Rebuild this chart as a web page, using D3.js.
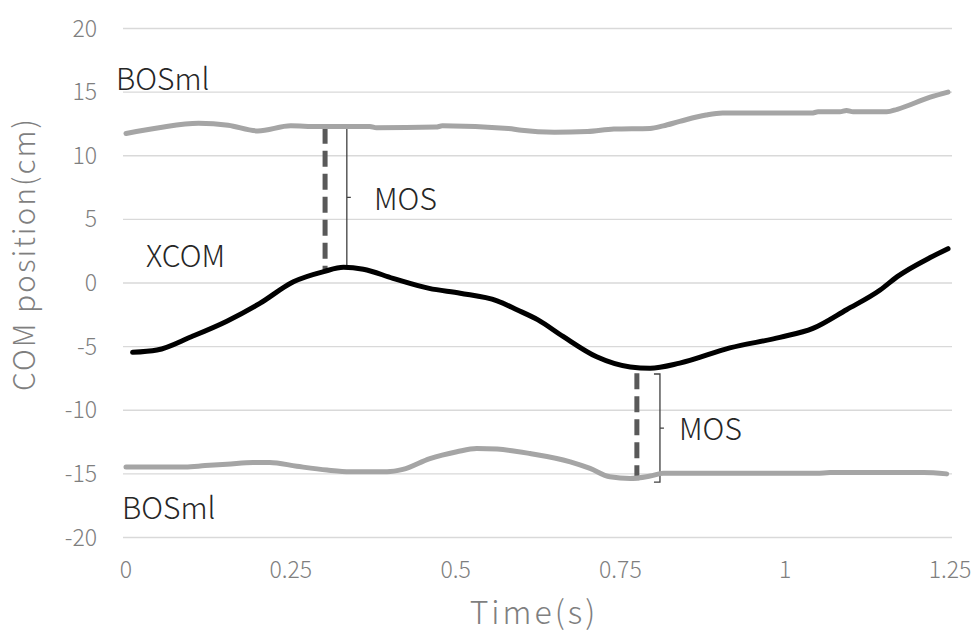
<!DOCTYPE html>
<html>
<head>
<meta charset="utf-8">
<script src="https://cdn.jsdelivr.net/npm/d3@7"></script>
<style>
  body { margin: 0; background: #fff; }
  text { font-family: "Noto Sans CJK JP", "Noto Sans", sans-serif; font-weight: 300; }
</style>
</head>
<body>
<script>
// tick values
var xTicks = [0, 0.25, 0.5, 0.75, 1, 1.25];
var yTicks = [-20, -15, -10, -5, 0, 5, 10, 15, 20];

// series: [time (s), position (cm)]
var bosUpper = [
  [0, 11.75], [0.05, 12.2], [0.11, 12.55], [0.155, 12.4], [0.2, 11.95], [0.25, 12.35],
  [0.29, 12.3], [0.37, 12.3], [0.38, 12.2], [0.47, 12.25], [0.48, 12.35], [0.58, 12.15],
  [0.6, 12.0], [0.65, 11.85], [0.7, 11.9], [0.74, 12.1], [0.795, 12.15], [0.815, 12.35],
  [0.84, 12.7], [0.88, 13.2], [0.905, 13.35], [1.04, 13.35], [1.05, 13.45], [1.083, 13.45],
  [1.093, 13.55], [1.103, 13.45], [1.154, 13.45], [1.17, 13.65], [1.22, 14.6], [1.247, 15.0]
];

var xcom = [
  [0.01, -5.45], [0.047, -5.27], [0.1, -4.2], [0.153, -3.0], [0.203, -1.6], [0.254, 0.1],
  [0.3, 0.9], [0.33, 1.23], [0.36, 1.08], [0.405, 0.37], [0.46, -0.42], [0.507, -0.8],
  [0.563, -1.4], [0.593, -2.1], [0.625, -2.9], [0.663, -4.2], [0.714, -5.8], [0.765, -6.6],
  [0.795, -6.7], [0.84, -6.3], [0.916, -5.1], [0.992, -4.27], [1.042, -3.57], [1.093, -2.1],
  [1.144, -0.55], [1.17, 0.5], [1.22, 2.0], [1.247, 2.7]
];

var bosLower = [
  [0, -14.45], [0.09, -14.45], [0.12, -14.35], [0.153, -14.25], [0.193, -14.1], [0.218, -14.1],
  [0.259, -14.4], [0.305, -14.7], [0.34, -14.83], [0.396, -14.83], [0.42, -14.65], [0.461, -13.8],
  [0.502, -13.26], [0.532, -13.0], [0.563, -13.05], [0.613, -13.4], [0.674, -14.05], [0.704, -14.57],
  [0.734, -15.23], [0.765, -15.36], [0.795, -15.17], [0.815, -14.96], [1.048, -14.96], [1.068, -14.9],
  [1.21, -14.9], [1.245, -15.0]
];

// MOS markers: dashed line + bracket, [time, from, to]
var mosDashed = [[0.302, 12.2, 0.9], [0.775, -7.1, -15.5]];
var mosBracket = [[0.335, 12.2, 1.25], [0.81, -7.15, -15.65]];

var width = 976, height = 632;

var svg = d3.select("body").append("svg")
  .attr("width", width)
  .attr("height", height);

var xScale = d3.scaleLinear().domain([0, 1.25]).range([126, 950]);
var yScale = d3.scaleLinear().domain([-20, 20]).range([537.5, 28.5]);

// gridlines
svg.append("g").selectAll("line")
  .data(yTicks).enter()
  .append("line")
  .attr("x1", xScale(0) - 3)
  .attr("x2", xScale(1.25) + 2)
  .attr("y1", function(d) { return yScale(d); })
  .attr("y2", function(d) { return yScale(d); })
  .attr("stroke", "#d9d9d9")
  .attr("stroke-width", 1.3);

// y tick labels
svg.append("g").selectAll("text")
  .data(yTicks).enter()
  .append("text")
  .attr("x", 97)
  .attr("y", function(d) { return yScale(d); })
  .attr("dy", "0.35em")
  .attr("text-anchor", "end")
  .attr("font-size", 23)
  .attr("fill", "#7f7f7f")
  .text(function(d) { return d; });

// x tick labels
svg.append("g").selectAll("text")
  .data(xTicks).enter()
  .append("text")
  .attr("x", function(d) { return xScale(d); })
  .attr("y", 578)
  .attr("text-anchor", "middle")
  .attr("font-size", 23)
  .attr("fill", "#7f7f7f")
  .text(function(d) { return d; });

// axis titles
svg.append("text")
  .attr("x", 534)
  .attr("y", 624)
  .attr("text-anchor", "middle")
  .attr("font-size", 32)
  .attr("letter-spacing", 3)
  .attr("fill", "#7f7f7f")
  .text("Time(s)");

svg.append("text")
  .attr("transform", "translate(35,254) rotate(-90)")
  .attr("text-anchor", "middle")
  .attr("font-size", 30)
  .attr("letter-spacing", 2)
  .attr("fill", "#7f7f7f")
  .text("COM position(cm)");

var line = d3.line()
  .x(function(d) { return xScale(d[0]); })
  .y(function(d) { return yScale(d[1]); })
  .curve(d3.curveMonotoneX);

// MOS dashed lines (drawn under series)
svg.append("g").selectAll("line")
  .data(mosDashed).enter()
  .append("line")
  .attr("x1", function(d) { return xScale(d[0]); })
  .attr("x2", function(d) { return xScale(d[0]); })
  .attr("y1", function(d) { return yScale(d[1]); })
  .attr("y2", function(d) { return yScale(d[2]); })
  .attr("stroke", "#595959")
  .attr("stroke-width", 5)
  .attr("stroke-dasharray", "16,7");

// brackets
svg.append("g").selectAll("path")
  .data(mosBracket).enter()
  .append("path")
  .attr("d", function(d) {
    var x = xScale(d[0]), y1 = yScale(d[1]), y2 = yScale(d[2]);
    var ym = (y1 + y2) / 2;
    return "M" + (x - 6) + "," + y1 + "H" + x + "V" + ym + "H" + (x + 4) +
           "M" + x + "," + ym + "V" + y2 + "H" + (x - 6);
  })
  .attr("fill", "none")
  .attr("stroke", "#404040")
  .attr("stroke-width", 1.3);

svg.append("path").datum(bosUpper)
  .attr("d", line)
  .attr("fill", "none")
  .attr("stroke", "#a5a5a5")
  .attr("stroke-width", 5)
  .attr("stroke-linecap", "round");

svg.append("path").datum(bosLower)
  .attr("d", line)
  .attr("fill", "none")
  .attr("stroke", "#a5a5a5")
  .attr("stroke-width", 5)
  .attr("stroke-linecap", "round");

svg.append("path").datum(xcom)
  .attr("d", line)
  .attr("fill", "none")
  .attr("stroke", "#000")
  .attr("stroke-width", 5)
  .attr("stroke-linecap", "round");

// annotation labels
var labels = [
  {text: "BOSml", x: 116, y: 90},
  {text: "XCOM", x: 146, y: 267},
  {text: "BOSml", x: 122, y: 519},
  {text: "MOS", x: 374, y: 210},
  {text: "MOS", x: 679, y: 440}
];

svg.append("g").selectAll("text")
  .data(labels).enter()
  .append("text")
  .attr("x", function(d) { return d.x; })
  .attr("y", function(d) { return d.y; })
  .attr("font-size", 30)
  .attr("fill", "#262626")
  .text(function(d) { return d.text; });
</script>
</body>
</html>
